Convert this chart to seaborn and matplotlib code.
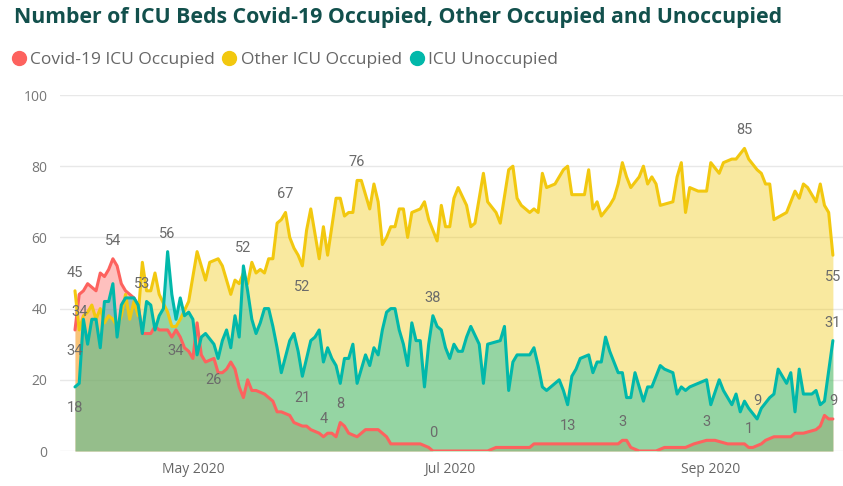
import matplotlib
matplotlib.use("Agg")
import matplotlib.pyplot as plt
import matplotlib.dates as mdates
from matplotlib.lines import Line2D
import pandas as pd
import seaborn as sns

# Daily ICU bed counts, day offsets counted from the first reporting date
start_date = "2020-04-03"

covid_day = [0, 1, 2, 3, 4, 5, 6, 7, 8, 9, 10, 11, 12, 13, 14, 15, 16, 17, 18, 19, 20,
             22, 23, 24, 25, 26, 27, 28, 29, 30, 31,
             33, 34, 35, 36, 37, 38, 39, 40, 41, 42, 43,
             45, 47, 48, 49, 51, 52, 54, 55, 56,
             58, 59, 60, 61, 62, 63, 64, 65, 67, 68, 69, 72, 74, 75, 82, 84, 85,
             98, 100, 108, 109,
             129, 130, 131, 132, 134, 138, 140, 142, 145, 147, 150, 152, 155, 159, 160, 161,
             163, 164, 166, 168, 170, 171, 172, 173, 176, 177, 178, 179, 180]
covid_val = [34, 44, 45, 47, 46, 45, 50, 49, 51, 54, 52, 47, 45, 44, 43, 41, 33, 33, 33, 35, 34,
             34, 32, 34, 32, 29, 28, 26, 36, 27, 25,
             26, 22, 22, 23, 25, 23, 18, 15, 20, 17, 17,
             16, 14, 11, 11, 10, 8, 7, 7, 6,
             5, 4, 5, 5, 4, 8, 7, 5, 4, 5, 6, 6, 4, 2, 2, 1, 0,
             0, 1, 1, 2,
             2, 3, 3, 1, 0, 0, 1, 1, 1, 2, 3, 3, 2, 2, 1, 1,
             2, 3, 4, 4, 4, 5, 5, 5, 6, 7, 10, 9, 9]

other_day = [0, 1, 2, 3, 4, 5, 6, 7, 8, 9, 10, 11, 12, 13, 14, 15, 16, 17, 18, 19, 20,
             22, 23, 24, 25, 27, 28, 29, 30, 31, 32,
             34, 35, 36, 37, 38, 39, 40, 41, 42, 43, 44, 45, 46, 47, 48, 49, 50, 51, 52, 53,
             54, 55, 56, 57, 58, 59, 60,
             62, 63, 64, 65, 66, 67, 68, 69, 70, 71, 72, 73, 74, 75, 76, 77, 78, 79, 80,
             82, 83, 84, 86, 87, 88, 89, 90, 91, 93, 94, 95, 97, 98, 100, 101,
             103, 104, 105, 106, 108, 109, 110, 111, 112, 114, 116, 117, 118,
             121, 122, 123, 124, 125, 127, 128, 129, 130, 131, 132,
             134, 135, 136, 137, 138, 139, 142, 143, 144, 145, 146, 148, 150, 151, 153, 154,
             156, 157, 159, 160, 162, 163, 164, 165, 166, 169, 170, 171, 172, 173, 174,
             176, 177, 178, 179, 180]
other_val = [45, 34, 38, 39, 41, 37, 40, 36, 38, 37, 35, 38, 44, 37, 42, 38, 53, 45, 45, 50, 44,
             39, 35, 35, 37, 42, 49, 56, 52, 48, 53,
             54, 52, 48, 44, 48, 47, 50, 47, 53, 50, 51, 50, 54, 54, 64, 65, 67, 60, 57, 55,
             52, 62, 68, 61, 54, 63, 55,
             71, 71, 66, 67, 67, 76, 76, 72, 68, 75, 70, 58, 60, 63, 63, 68, 68, 60, 67,
             68, 70, 65, 59, 69, 63, 63, 71, 74, 69, 63, 64, 78, 70, 67, 64,
             79, 80, 71, 69, 67, 68, 67, 78, 74, 75, 79, 80, 72,
             72, 79, 68, 70, 66, 69, 71, 75, 81, 77, 74,
             77, 80, 75, 77, 75, 69, 70, 77, 81, 67, 74, 73, 73, 81, 78, 81,
             82, 82, 85, 82, 79, 78, 75, 75, 65, 67, 70, 73, 71, 75, 74,
             70, 75, 69, 67, 55]

unocc_day = [0, 1, 2, 3, 4, 5, 6, 7, 8, 9, 10, 11, 12, 13, 14, 15, 16, 17, 18, 19, 20,
             21, 22, 23, 24, 25, 26, 27, 28, 29, 30, 31,
             33, 34, 35, 36, 37, 38, 39, 40, 41, 42, 43, 44, 45, 46, 47, 48, 49,
             51, 52, 53, 54,
             56, 57, 58, 59, 60, 61, 62, 63, 64, 65, 66, 67, 68, 69, 70, 71, 72, 73, 74, 75,
             76, 77, 78, 79, 80, 81, 82, 83, 84, 85, 86, 87, 88, 89, 90, 91, 92, 93, 94,
             96, 97, 98, 101, 102, 103, 104, 105, 108, 109, 110, 111, 112, 113,
             115, 116, 117, 118, 119, 120,
             122, 123, 124, 125, 126, 127, 128, 129, 130, 131, 132, 133, 134, 135, 136, 137,
             139, 140, 142, 143, 144, 145, 146, 148, 150, 151, 153, 154,
             156, 157, 158, 159, 160, 162, 163,
             165, 166, 167, 168, 169, 170, 171, 172, 173, 175, 176, 177, 178, 180]
unocc_val = [18, 19, 37, 30, 37, 37, 29, 42, 42, 47, 32, 41, 43, 43, 43, 41, 33, 42, 41, 34, 38,
             40, 56, 44, 37, 43, 38, 39, 37, 27, 32, 33,
             30, 26, 31, 34, 29, 38, 32, 52, 45, 37, 33, 36, 40, 40, 35, 29, 22,
             31, 33, 28, 21,
             31, 32, 34, 25, 29, 26, 24, 19, 26, 26, 30, 19, 23, 27, 24, 29, 27, 34, 39, 40,
             40, 34, 30, 24, 36, 31, 31, 18, 30, 38, 35, 34, 29, 26, 30, 28, 28, 32, 35,
             30, 19, 30, 31, 35, 17, 25, 27, 27, 29, 24, 18, 17, 18,
             20, 17, 13, 21, 23, 26,
             27, 22, 25, 25, 32, 28, 25, 22, 22, 15, 15, 22, 18, 14, 18, 18,
             24, 23, 22, 16, 18, 17, 18, 19, 20, 13, 20, 17,
             13, 16, 11, 14, 12, 9, 12,
             15, 16, 23, 21, 19, 22, 11, 23, 16, 16, 17, 13, 14, 31]

series_names = ["Covid-19 ICU Occupied", "Other ICU Occupied", "ICU Unoccupied"]
series_colors = ["#FD625E", "#F2C80F", "#01B8AA"]

# Data labels: (series index, day, placed above the point?)
label_points = [
    (1, 0, True), (0, 0, False), (1, 1, True), (2, 0, False),
    (0, 9, True), (1, 16, False), (2, 22, True), (0, 24, False), (0, 33, False),
    (2, 40, True), (1, 50, True), (1, 54, False), (2, 54, False), (0, 59, True),
    (0, 63, True), (1, 67, True), (2, 85, True), (0, 85, True), (2, 117, False),
    (0, 130, True), (0, 150, True), (1, 159, True), (0, 160, True), (2, 162, True),
    (1, 180, False), (2, 180, True), (0, 180, True),
]

start = pd.Timestamp(start_date)
raw = [(covid_day, covid_val), (other_day, other_val), (unocc_day, unocc_val)]
frames = []
for name, (days, vals) in zip(series_names, raw):
    frames.append(pd.DataFrame({
        "day": days,
        "date": start + pd.to_timedelta(days, unit="D"),
        "value": vals,
        "series": name,
    }))
df = pd.concat(frames, ignore_index=True)

sns.set_theme(style="white")
plt.rcParams["font.family"] = ["Open Sans", "DejaVu Sans"]

W, H = 843, 486
fig = plt.figure(figsize=(W / 100, H / 100), dpi=100)
ax = fig.add_axes([60 / W, 35 / H, 783 / W, 356 / H])

# Translucent areas from zero, drawn in series order so overlaps blend
for name, color in zip(series_names, series_colors):
    sub = df[df["series"] == name]
    ax.fill_between(sub["date"], sub["value"], 0, color=color, alpha=0.4, lw=0)

sns.lineplot(data=df, x="date", y="value", hue="series", hue_order=series_names,
             palette=series_colors, linewidth=2.2, legend=False, ax=ax)

# Value labels
for s, d, above in label_points:
    sub = df[(df["series"] == series_names[s]) & (df["day"] == d)].iloc[0]
    ax.annotate(f"{sub['value']}", (sub["date"], sub["value"]),
                xytext=(0, 13 if above else -15.5), textcoords="offset points",
                ha="center", va="center", fontsize=10.5, color="#6B6B6B",
                family=["Roboto", "DejaVu Sans"])

ax.set_xlim(start - pd.Timedelta(days=3.56), start + pd.Timedelta(days=182.4))
ax.set_ylim(0, 100)
ax.set_yticks(range(0, 101, 20))
ax.xaxis.set_major_locator(mdates.MonthLocator(bymonth=(5, 7, 9)))
ax.xaxis.set_major_formatter(mdates.DateFormatter("%b %Y"))
ax.tick_params(axis="y", length=0, pad=9, labelsize=10, labelcolor="#777777")
ax.tick_params(axis="x", length=0, pad=8, labelsize=10, labelcolor="#666666")
ax.set_xlabel("")
ax.set_ylabel("")
ax.grid(False)
ax.yaxis.grid(True, color="#E8E8E8", lw=1)
ax.set_axisbelow(True)
for sp in ax.spines.values():
    sp.set_visible(False)

fig.text(14 / W, 1 - 17 / H,
         "Number of ICU Beds Covid-19 Occupied, Other Occupied and Unoccupied",
         fontsize=15.3, fontweight="bold", color="#12504C", ha="left", va="center")

handles = [Line2D([], [], marker="o", ls="", markersize=10, color=c) for c in series_colors]
fig.legend(handles, series_names, loc="center left", bbox_to_anchor=(12 / W, 1 - 60 / H),
           ncol=3, frameon=False, handlelength=0.75, handletextpad=0.3,
           columnspacing=0.45, fontsize=12.5, labelcolor="#666666", borderpad=0,
           borderaxespad=0)

fig.savefig("out.png", dpi=100)
